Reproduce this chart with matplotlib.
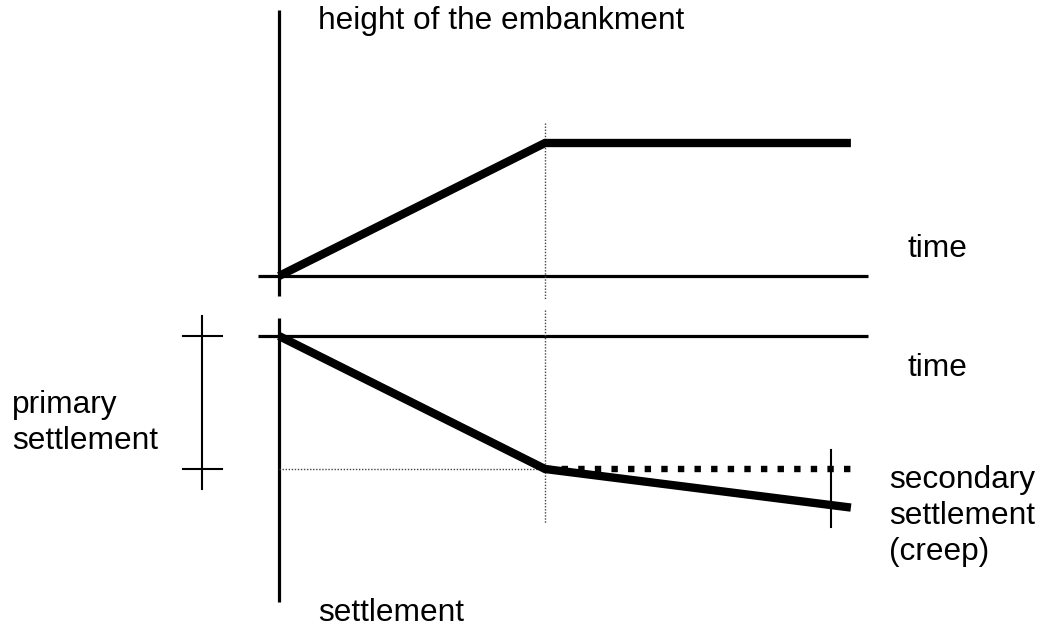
import matplotlib
matplotlib.use("Agg")
import matplotlib.pyplot as plt

# ---- data (schematic, in relative units) ----
time_pts = [0.0, 1.0, 2.15]          # start, end of construction, end of plot
height_pts = [0.0, 1.0, 1.0]         # height of the embankment
settle_total = [0.0, 1.0, 1.29]      # settlement incl. secondary (creep)
settle_primary = [0.0, 1.0, 1.0]     # primary settlement only
t_end_construction = 1.0
t_creep_marker = 2.075

labels_height = "height of the embankment"
label_time = "time"
label_settlement = "settlement"
label_primary = "primary\nsettlement"
label_secondary = "secondary\nsettlement\n(creep)"

plt.rcParams['font.family'] = ['Liberation Sans', 'DejaVu Sans']

W, H = 1041, 630
fig = plt.figure(figsize=(W / 100, H / 100), dpi=100)
ax = fig.add_axes([0, 0, 1, 1])
ax.set_xlim(-279 / 266, (W - 279) / 266)
ax.set_ylim((276 - H) / 133, 276 / 133)
ax.axis('off')

gap = (336 - 276) / 133  # vertical offset of the lower panel origin

def low(vals):
    return [-gap - v for v in vals]

k = 'black'
axlw = 2.3
dot_c = '#444444'
# --- upper panel ---
ax.plot([0, 0], [2.0, -0.15], color=k, lw=axlw, solid_capstyle='butt')
ax.plot([-0.079, 2.214], [0, 0], color=k, lw=axlw, solid_capstyle='butt')
ax.plot([t_end_construction] * 2, [1.15, -0.18], color=dot_c, lw=1.0,
        linestyle=(0, (1, 1.2)))
ax.plot(time_pts, height_pts, color=k, lw=6.0, solid_capstyle='butt',
        solid_joinstyle='miter')

# --- lower panel ---
ax.plot([-0.079, 2.214], [-gap, -gap], color=k, lw=axlw, solid_capstyle='butt')
ax.plot([0, 0], [-0.316, -2.451], color=k, lw=axlw, solid_capstyle='butt')
ax.plot([t_end_construction] * 2, [-0.256, -1.857], color=dot_c, lw=1.0,
        linestyle=(0, (1, 1.2)))
ax.plot([0, t_end_construction], low([settle_primary[1]] * 2), color=dot_c,
        lw=1.0, linestyle=(0, (1, 1.2)))
ax.plot(time_pts[1:], low(settle_primary[1:]), color=k, lw=4.6,
        linestyle=(0, (1, 1.6)), dash_capstyle='butt')
ax.plot(time_pts, low(settle_total), color=k, lw=6.0, solid_capstyle='butt',
        solid_joinstyle='miter')
ax.plot([t_creep_marker] * 2, [-1.308, -1.887], color=k, lw=1.5)

# bracket for primary settlement
bx = -0.289
ax.plot([bx, bx], [-0.30, -1.60], color=k, lw=1.5)
for s in (settle_primary[0], settle_primary[1]):
    ax.plot([-0.361, -0.214], low([s, s]), color=k, lw=1.5)

# --- texts ---
fs = 22.8
def px(x, y):
    return (x - 279) / 266, (276 - y) / 133

ax.text(*px(318, 21), labels_height, fontsize=fs, va='center', ha='left')
ax.text(*px(907, 249), label_time, fontsize=fs, va='center', ha='left')
ax.text(*px(907, 368), label_time, fontsize=fs, va='center', ha='left')
ax.text(*px(318, 613), label_settlement, fontsize=fs, va='center', ha='left')
ax.text(*px(12, 423), label_primary, fontsize=fs, va='center', ha='left',
        linespacing=1.25)
ax.text(*px(889, 516), label_secondary, fontsize=fs, va='center', ha='left',
        linespacing=1.25)

fig.savefig('out.png', dpi=100)
